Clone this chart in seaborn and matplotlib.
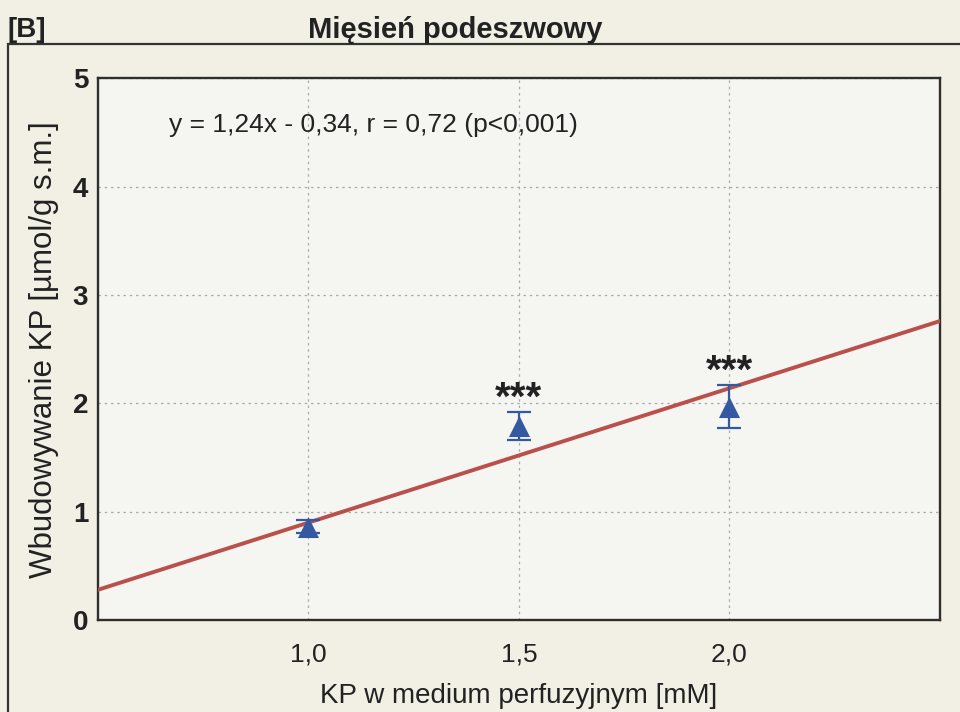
import matplotlib
matplotlib.use("Agg")
import matplotlib.pyplot as plt
from matplotlib.patches import Rectangle
import numpy as np
import pandas as pd
import seaborn as sns

# Perfusion medium concentration [mM] and incorporation means with SE
conc = [1.0, 1.5, 2.0]
incorporation = [0.86, 1.79, 1.97]
sem = [0.06, 0.13, 0.20]
stars = ["", "***", "***"]

# Linear regression reported on the chart
slope = 1.24
intercept = -0.34
fit_text = "y = 1,24x - 0,34, r = 0,72 (p<0,001)"

x_ticks = [1.0, 1.5, 2.0]
x_ticklabels = ["1,0", "1,5", "2,0"]
y_ticks = [0, 1, 2, 3, 4, 5]

sns.set_theme(style="white")
plt.rcParams["font.family"] = ["Liberation Sans", "DejaVu Sans"]

fig_bg = "#f2efe4"
ax_bg = "#f5f5f2"
blue = "#3559a0"
red = "#b9504a"
ink = "#222222"

fig = plt.figure(figsize=(9.6, 7.12), dpi=100, facecolor=fig_bg)
ax = fig.add_axes([0.102, 0.129, 0.877, 0.761], facecolor=ax_bg)

# Outer panel frame
fig.patches.append(Rectangle((0.008, -0.05), 1.1, 0.988, transform=fig.transFigure,
                             fill=False, edgecolor="#333333", linewidth=1.6, zorder=0))

df = pd.DataFrame({"conc": conc, "val": incorporation, "sem": sem})

# Regression line across the whole x range
xfit = np.array([0.5, 2.5])
fit_df = pd.DataFrame({"x": xfit, "y": slope * xfit + intercept})
sns.lineplot(data=fit_df, x="x", y="y", color=red, linewidth=2.8, ax=ax, zorder=3)

ax.errorbar(df["conc"], df["val"], yerr=df["sem"], fmt="none", ecolor=blue,
            elinewidth=1.6, capsize=8.5, capthick=1.6, zorder=4)
sns.scatterplot(data=df, x="conc", y="val", marker="^", s=230, color=blue,
                edgecolor=blue, linewidth=0, ax=ax, zorder=5)

for x, y, e, s in zip(conc, incorporation, sem, stars):
    if s:
        ax.text(x, y + e + 0.02, s, ha="center", va="baseline", fontsize=29,
                fontweight="bold", color=ink)

ax.text(0.67, 4.57, fit_text, fontsize=19, color=ink, va="center", ha="left")

ax.set_xlim(0.5, 2.5)
ax.set_ylim(0, 5)
ax.set_xticks(x_ticks)
ax.set_xticklabels(x_ticklabels, fontsize=19)
ax.set_yticks(y_ticks)
ax.set_yticklabels([str(v) for v in y_ticks], fontsize=20, fontweight="bold")
ax.tick_params(axis="x", pad=16, length=0, colors=ink)
ax.tick_params(axis="y", pad=7, length=0, colors=ink)

ax.grid(True, linestyle=(0, (2, 3)), color="#aaaaaa", linewidth=0.9)
ax.set_axisbelow(True)
for sp in ax.spines.values():
    sp.set_visible(True)
    sp.set_color("#2e2e2e")
    sp.set_linewidth(1.7)

ax.set_xlabel("KP w medium perfuzyjnym [mM]", fontsize=20, labelpad=12, color=ink)
ax.set_ylabel("Wbudowywanie KP [µmol/g s.m.]", fontsize=22.5, labelpad=10, color=ink)

fig.text(0.474, 0.958, "Mięsień podeszwowy", fontsize=21, fontweight="bold",
         ha="center", va="center", color=ink)
fig.text(0.008, 0.958, "[B]", fontsize=20, fontweight="bold", ha="left", va="center",
         color=ink)

fig.savefig("out.png", dpi=100, facecolor=fig_bg)
